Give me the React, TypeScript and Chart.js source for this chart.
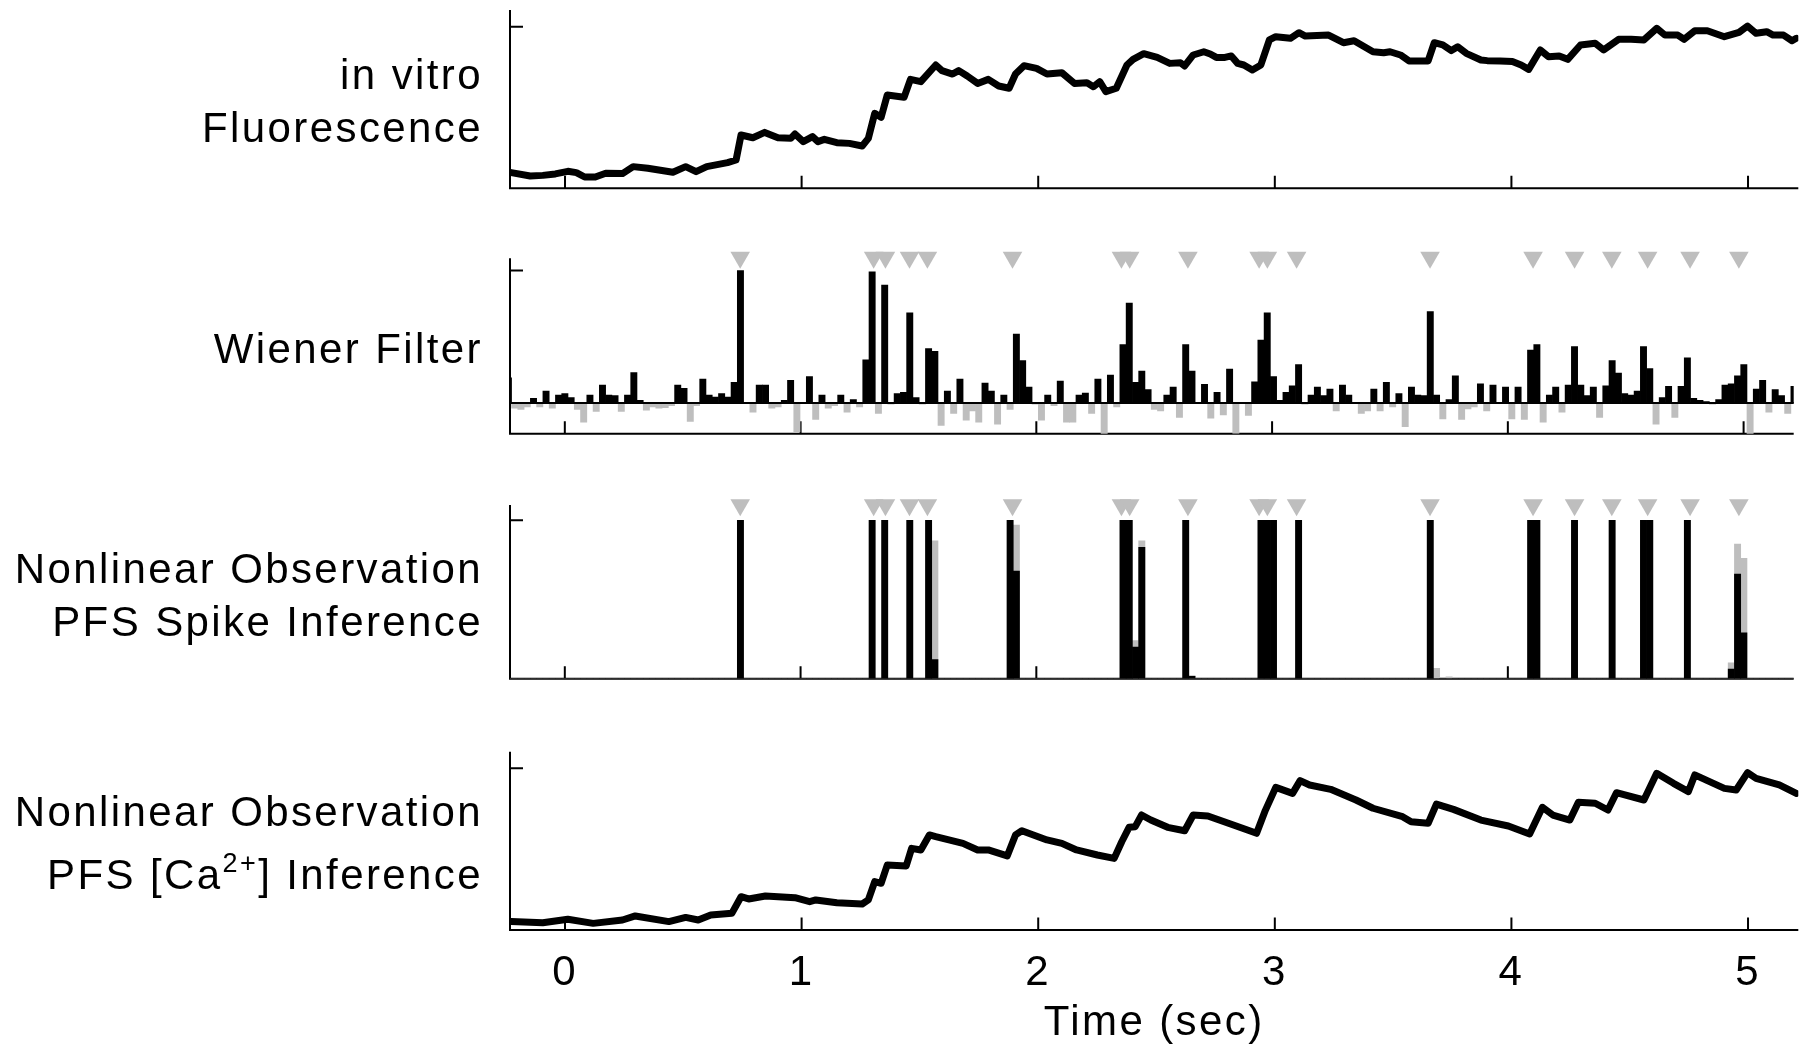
import React, { useEffect, useRef } from "react";
import { Chart, registerables } from "chart.js";
Chart.register(...registerables);

// ---------------- data ----------------
const X_MIN = -0.2325;
const X_MAX = 5.2125;
const xTickValues = [0, 1, 2, 3, 4, 5];
const xTickLabels = ["0", "1", "2", "3", "4", "5"];

// time base of the binned signals (s)
const BIN_T0 = -0.2392;
const BIN_DT = 0.0266;

const spikeTimes = [0.744, 1.31, 1.36, 1.462, 1.538, 1.899, 2.361, 2.396, 2.643, 2.945, 2.98, 3.104, 3.67, 4.107, 4.283, 4.441, 4.593, 4.773, 4.98];

const fluorT = [-0.227, -0.147, -0.094, -0.041, 0.012, 0.048, 0.083, 0.128, 0.172, 0.243, 0.288, 0.35, 0.456, 0.51, 0.554, 0.599, 0.687, 0.723, 0.744, 0.794, 0.844, 0.9, 0.954, 0.972, 1.007, 1.046, 1.069, 1.096, 1.149, 1.202, 1.256, 1.282, 1.309, 1.336, 1.362, 1.433, 1.46, 1.504, 1.567, 1.593, 1.638, 1.664, 1.7, 1.744, 1.789, 1.833, 1.877, 1.904, 1.94, 1.993, 2.037, 2.1, 2.153, 2.206, 2.233, 2.26, 2.286, 2.33, 2.375, 2.401, 2.446, 2.503, 2.556, 2.601, 2.619, 2.655, 2.7, 2.727, 2.753, 2.789, 2.816, 2.843, 2.869, 2.905, 2.941, 2.977, 3.004, 3.066, 3.102, 3.129, 3.227, 3.29, 3.335, 3.415, 3.46, 3.487, 3.531, 3.567, 3.648, 3.674, 3.71, 3.746, 3.773, 3.809, 3.871, 3.898, 3.952, 4.004, 4.041, 4.073, 4.122, 4.157, 4.202, 4.238, 4.292, 4.354, 4.39, 4.453, 4.506, 4.56, 4.614, 4.649, 4.703, 4.73, 4.775, 4.828, 4.9, 4.962, 4.998, 5.034, 5.079, 5.106, 5.15, 5.186, 5.204];
const fluorV = [0.097, 0.076, 0.08, 0.089, 0.105, 0.097, 0.07, 0.07, 0.093, 0.091, 0.134, 0.124, 0.099, 0.134, 0.103, 0.134, 0.159, 0.175, 0.33, 0.313, 0.346, 0.313, 0.309, 0.336, 0.289, 0.32, 0.289, 0.303, 0.282, 0.278, 0.262, 0.309, 0.464, 0.439, 0.577, 0.563, 0.674, 0.66, 0.763, 0.728, 0.707, 0.728, 0.695, 0.649, 0.674, 0.633, 0.619, 0.707, 0.759, 0.742, 0.707, 0.715, 0.649, 0.653, 0.629, 0.66, 0.598, 0.619, 0.763, 0.798, 0.833, 0.81, 0.773, 0.777, 0.757, 0.825, 0.845, 0.831, 0.81, 0.81, 0.819, 0.773, 0.763, 0.732, 0.763, 0.918, 0.938, 0.928, 0.963, 0.942, 0.948, 0.901, 0.913, 0.845, 0.839, 0.845, 0.825, 0.788, 0.788, 0.901, 0.887, 0.852, 0.876, 0.835, 0.794, 0.79, 0.788, 0.784, 0.763, 0.736, 0.856, 0.814, 0.819, 0.798, 0.887, 0.897, 0.856, 0.922, 0.922, 0.918, 0.99, 0.948, 0.948, 0.922, 0.975, 0.975, 0.938, 0.965, 1.004, 0.959, 0.969, 0.948, 0.948, 0.913, 0.928];

const wienerValues = [
  0.19, -0.04, -0.05, -0.03, 0.035, -0.03, 0.09, -0.04, 0.06, 0.07,
  0.04, -0.05, -0.145, 0.06, -0.065, 0.135, 0.06, 0.055, -0.065, 0.06,
  0.23, 0.02, -0.055, -0.03, -0.04, -0.035, -0.02, 0.135, 0.11, -0.14,
  -0.02, 0.18, 0.06, 0.045, 0.07, 0.045, 0.155, 1.0, 0, -0.07,
  0.135, 0.135, -0.04, -0.03, 0.02, 0.17, -0.22, 0, 0.2, -0.125,
  0.06, -0.04, -0.02, 0.06, -0.07, 0.025, -0.03, 0.325, 0.99, -0.08,
  0.89, -0.01, 0.07, 0.08, 0.68, 0.04, -0.01, 0.41, 0.39, -0.17,
  0.09, -0.08, 0.18, -0.13, -0.06, -0.145, 0.15, 0.09, -0.16, 0.06,
  -0.05, 0.52, 0.32, 0.12, -0.01, -0.13, 0.06, -0.02, 0.165, -0.145,
  -0.145, 0.06, 0.075, -0.08, 0.18, -0.25, 0.21, -0.03, 0.44, 0.755,
  0.155, 0.24, 0.1, -0.05, -0.06, 0.06, 0.12, -0.11, 0.44, 0.24,
  0, 0.14, -0.115, 0.08, -0.09, 0.255, -0.23, 0, -0.095, 0.16,
  0.475, 0.68, 0.2, 0.02, 0.08, 0.13, 0.29, -0.01, 0.06, 0.12,
  0.055, 0.105, -0.06, 0.135, 0.06, 0, -0.08, -0.06, 0.105, -0.06,
  0.155, -0.03, 0.07, -0.18, 0.12, 0.06, 0.055, 0.69, 0.06, -0.12,
  0.025, 0.205, -0.125, -0.045, -0.03, 0.145, -0.06, 0.135, 0, 0.12,
  -0.12, 0.12, -0.125, 0.4, 0.44, -0.145, 0.06, 0.12, -0.07, 0.135,
  0.425, 0.135, 0.055, 0.12, -0.11, 0.13, 0.32, 0.225, 0.07, 0.06,
  0.09, 0.425, 0.26, -0.16, 0.04, 0.125, -0.11, 0.125, 0.34, 0.035,
  0.02, 0.01, -0.01, 0.025, 0.135, 0.145, 0.205, 0.29, -0.24, 0.105,
  0.17, -0.07, 0.1, 0.055, -0.08, 0.125
];

const spikeBinIdx = [37, 58, 60, 64, 67, 68, 80, 81, 98, 99, 100, 101, 108, 109, 120, 121, 122, 126, 147, 163, 164, 170, 176, 181, 182, 188, 195, 196, 197];
const spikeBlack = [1, 1, 1, 1, 1, 0.12, 1, 0.68, 1, 1, 0.2, 0.83, 1, 0.015, 1, 1, 1, 1, 1, 1, 1, 1, 1, 1, 1, 1, 0.06, 0.66, 0.29];
const spikeGrayIdx = [68, 81, 100, 101, 109, 148, 150, 195, 196, 197];
const spikeGrayVals = [0.87, 0.97, 0.24, 0.87, 0.02, 0.065, 0.012, 0.1, 0.85, 0.76];

const caT = [-0.227, -0.094, 0.012, 0.119, 0.243, 0.297, 0.439, 0.51, 0.563, 0.616, 0.705, 0.744, 0.776, 0.847, 0.972, 1.034, 1.06, 1.149, 1.256, 1.282, 1.309, 1.336, 1.362, 1.442, 1.465, 1.504, 1.54, 1.567, 1.682, 1.744, 1.789, 1.869, 1.904, 1.931, 2.037, 2.1, 2.162, 2.25, 2.321, 2.353, 2.384, 2.41, 2.437, 2.476, 2.547, 2.619, 2.655, 2.717, 2.825, 2.923, 2.96, 3.004, 3.075, 3.107, 3.147, 3.236, 3.343, 3.415, 3.54, 3.576, 3.648, 3.683, 3.755, 3.871, 3.987, 4.077, 4.131, 4.175, 4.247, 4.283, 4.354, 4.408, 4.444, 4.56, 4.614, 4.685, 4.748, 4.775, 4.9, 4.95, 4.998, 5.034, 5.132, 5.204];
const caV = [0.052, 0.045, 0.066, 0.041, 0.062, 0.087, 0.052, 0.078, 0.062, 0.093, 0.103, 0.206, 0.192, 0.21, 0.2, 0.175, 0.186, 0.169, 0.161, 0.186, 0.299, 0.289, 0.402, 0.396, 0.505, 0.495, 0.588, 0.577, 0.536, 0.495, 0.495, 0.458, 0.588, 0.614, 0.557, 0.536, 0.495, 0.464, 0.443, 0.546, 0.635, 0.639, 0.711, 0.68, 0.635, 0.614, 0.711, 0.705, 0.649, 0.598, 0.74, 0.882, 0.845, 0.924, 0.897, 0.87, 0.804, 0.753, 0.701, 0.67, 0.66, 0.779, 0.746, 0.68, 0.643, 0.594, 0.759, 0.711, 0.68, 0.79, 0.784, 0.742, 0.849, 0.804, 0.969, 0.907, 0.856, 0.959, 0.876, 0.866, 0.973, 0.938, 0.897, 0.845];

// ---------------- style ----------------
const W = 1805;
const PLOT_LEFT = 510;
const PLOT_RIGHT = 1798.3;
const BLACK = "#000000";
const GRAY = "#bebebe";
const FONT = '"Liberation Sans", Arial, Helvetica, sans-serif';

const binX = (k: number) => BIN_T0 + k * BIN_DT;
const nBins = wienerValues.length;
const denseFrom = (idx: number[], vals: number[]) => {
  const arr = new Array(nBins).fill(0);
  idx.forEach((k, i) => (arr[k] = vals[i]));
  return arr;
};

const axesPlugin = {
  id: "matAxes",
  beforeDatasetsDraw(chart: any, _a: any, opts: any) {
    const { ctx, chartArea } = chart;
    const { left, right, top, bottom } = chartArea;
    const xs = chart.scales.x;
    const ys = chart.scales.y;
    ctx.save();
    ctx.strokeStyle = BLACK;
    ctx.lineWidth = 2;
    ctx.lineCap = "butt";
    ctx.beginPath();
    ctx.moveTo(left - 1, bottom);
    ctx.lineTo(right, bottom);
    ctx.moveTo(left, bottom + 1);
    ctx.lineTo(left, top);
    xTickValues.forEach((v) => {
      const px = xs.getPixelForValue(v);
      ctx.moveTo(px, bottom);
      ctx.lineTo(px, bottom - 12.5);
    });
    const py = ys.getPixelForValue(opts.yTick ?? 1);
    ctx.moveTo(left, py);
    ctx.lineTo(left + 13, py);
    ctx.stroke();
    ctx.restore();
  },
  afterDatasetsDraw(chart: any, _a: any, opts: any) {
    if (!opts.zeroLine) return;
    const { ctx, chartArea } = chart;
    const py = chart.scales.y.getPixelForValue(0);
    ctx.save();
    ctx.strokeStyle = BLACK;
    ctx.lineWidth = 2;
    ctx.beginPath();
    ctx.moveTo(chartArea.left, py);
    ctx.lineTo(chartArea.right, py);
    ctx.stroke();
    ctx.restore();
  },
};

const spacingPlugin = {
  id: "letterSpacing",
  beforeDraw(chart: any) {
    try {
      chart.ctx.letterSpacing = "2.4px";
    } catch (e) {}
  },
};

function baseOptions(padTop: number, padBottom: number, yMin: number, yMax: number, extra: any = {}) {
  return {
    animation: false,
    responsive: false,
    devicePixelRatio: 1,
    events: [],
    layout: { padding: { left: PLOT_LEFT, right: W - PLOT_RIGHT, top: padTop, bottom: padBottom } },
    plugins: {
      legend: { display: false },
      tooltip: { enabled: false },
      matAxes: extra.matAxes || { yTick: 1 },
    },
    scales: {
      x: extra.x || { type: "linear", min: X_MIN, max: X_MAX, offset: false, display: false },
      y: { type: "linear", min: yMin, max: yMax, display: false },
    },
  };
}

const triangleDataset = (yVal: number) => ({
  type: "line",
  data: spikeTimes.map((t) => ({ x: t, y: yVal })),
  showLine: false,
  pointStyle: "triangle",
  rotation: 180,
  pointRadius: 11.3,
  pointBackgroundColor: GRAY,
  pointBorderWidth: 0,
  borderColor: GRAY,
  clip: false,
  order: -1,
});

const lineDataset = (ts: number[], vs: number[]) => ({
  type: "line",
  data: ts.map((t, i) => ({ x: t, y: vs[i] })),
  borderColor: BLACK,
  borderWidth: 7,
  pointRadius: 0,
  tension: 0,
  borderJoinStyle: "round",
  borderCapStyle: "round",
});

function buildFluor() {
  return {
    type: "line",
    data: { datasets: [lineDataset(fluorT, fluorV)] },
    options: baseOptions(10, 200 - 188.3, 0, 1.1033),
    plugins: [axesPlugin],
  };
}

function buildWiener() {
  return {
    type: "bar",
    data: {
      datasets: [
        triangleDataset(1.1),
        {
          type: "bar",
          data: wienerValues.map((v, k) => ({ x: binX(k), y: v })),
          backgroundColor: wienerValues.map((v) => (v >= 0 ? BLACK : GRAY)),
          borderWidth: 0,
          barPercentage: 1,
          categoryPercentage: 1,
          grouped: false,
        },
      ],
    },
    options: baseOptions(258.3 - 240, 445 - 435, -0.2326, 1.093, { matAxes: { yTick: 1, zeroLine: true } }),
    plugins: [axesPlugin],
  };
}

function buildSpikes() {
  const black = denseFrom(spikeBinIdx, spikeBlack);
  const gray = denseFrom(spikeGrayIdx, spikeGrayVals);
  return {
    type: "bar",
    data: {
      datasets: [
        triangleDataset(1.097),
        {
          type: "bar",
          data: black.map((v, k) => ({ x: binX(k), y: v })),
          backgroundColor: BLACK,
          borderWidth: 0,
          barPercentage: 1,
          categoryPercentage: 1,
          grouped: false,
          order: 0,
        },
        {
          type: "bar",
          data: gray.map((v, k) => ({ x: binX(k), y: v })),
          backgroundColor: GRAY,
          borderWidth: 0,
          barPercentage: 1,
          categoryPercentage: 1,
          grouped: false,
          order: 1,
        },
      ],
    },
    options: baseOptions(505 - 490, 690 - 682.6, 0, 1.097),
    plugins: [axesPlugin],
  };
}

function buildCalcium() {
  const xAxis = {
    type: "linear",
    min: X_MIN,
    max: X_MAX,
    offset: false,
    display: true,
    grid: { display: false, drawTicks: false, drawOnChartArea: false },
    border: { display: false },
    afterBuildTicks: (s: any) => {
      s.ticks = xTickValues.map((v) => ({ value: v }));
    },
    afterFit: (s: any) => {
      s.height = 120;
    },
    ticks: {
      color: BLACK,
      font: { family: FONT, size: 42 },
      padding: 18,
      maxRotation: 0,
      autoSkip: false,
      callback: (v: number) => xTickLabels[xTickValues.indexOf(v)],
    },
    title: {
      display: true,
      text: "Time (sec)",
      color: BLACK,
      font: { family: FONT, size: 42 },
      padding: { top: 0, bottom: 1.3 },
    },
  };
  return {
    type: "line",
    data: { datasets: [lineDataset(caT, caV)] },
    options: baseOptions(751.7 - 740, 0, 0, 1.1027, { x: xAxis }),
    plugins: [axesPlugin, spacingPlugin],
  };
}

function ChartCanvas(props: { top: number; height: number; build: () => any }) {
  const ref = useRef<HTMLCanvasElement>(null);
  useEffect(() => {
    const chart = new Chart(ref.current as HTMLCanvasElement, props.build());
    return () => chart.destroy();
  }, []);
  return (
    <canvas
      ref={ref}
      width={W}
      height={props.height}
      style={{ position: "absolute", left: 0, top: props.top, width: W, height: props.height }}
    />
  );
}

const labelStyle: React.CSSProperties = {
  position: "absolute",
  right: W - 483,
  fontFamily: FONT,
  fontSize: 42,
  lineHeight: "42px",
  letterSpacing: "2.4px",
  whiteSpace: "nowrap",
  color: "#000",
  textAlign: "right",
};

function Label(props: { baseline: number; children: React.ReactNode }) {
  return <div style={{ ...labelStyle, top: props.baseline - 35.55 }}>{props.children}</div>;
}

export default function App() {
  return (
    <div style={{ position: "absolute", left: 0, top: 0, width: W, height: 1046, background: "#fff", overflow: "hidden" }}>
      <ChartCanvas top={0} height={200} build={buildFluor} />
      <ChartCanvas top={240} height={205} build={buildWiener} />
      <ChartCanvas top={490} height={200} build={buildSpikes} />
      <ChartCanvas top={740} height={310} build={buildCalcium} />
      <Label baseline={89.8}>in vitro</Label>
      <Label baseline={142.7}>Fluorescence</Label>
      <Label baseline={363.8}>Wiener Filter</Label>
      <Label baseline={583.6}>Nonlinear Observation</Label>
      <Label baseline={636.6}>PFS Spike Inference</Label>
      <Label baseline={826.5}>Nonlinear Observation</Label>
      <Label baseline={889.8}>
        PFS [Ca<span style={{ fontSize: 27, position: "relative", top: -17 }}>2+</span>] Inference
      </Label>
    </div>
  );
}
